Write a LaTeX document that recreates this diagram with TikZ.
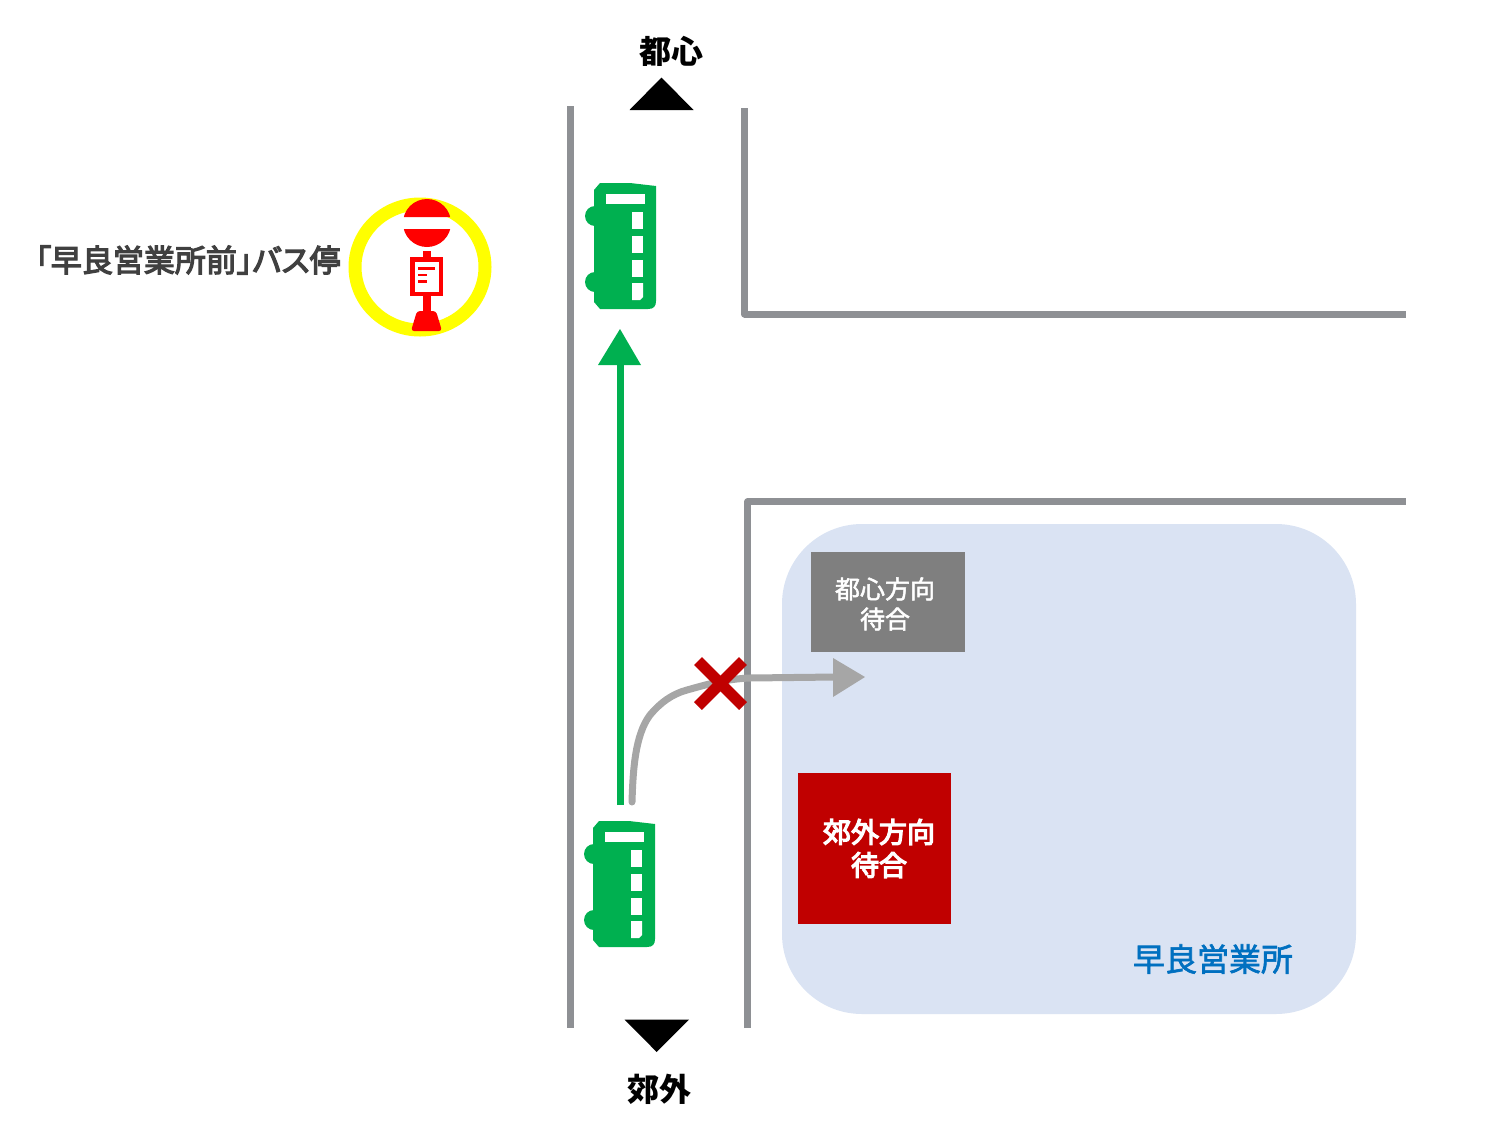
\documentclass[tikz,border=0pt]{standalone}
\usepackage{fontspec}
\setmainfont{Noto Sans CJK JP}
\newfontfamily\jpmed[FakeBold=2]{Noto Sans CJK JP}
\newfontfamily\jpheavy[FakeBold=4.5]{Noto Sans CJK JP}
\newfontfamily\jplab[RawFeature=+palt,FakeBold=4]{Noto Sans CJK JP}
\definecolor{road}{HTML}{8E9094}
\definecolor{busgreen}{HTML}{00B050}
\definecolor{xred}{HTML}{C00000}
\definecolor{lot}{HTML}{DAE3F3}
\definecolor{routegray}{HTML}{A6A6A6}
\definecolor{boxgray}{HTML}{7F7F7F}
\definecolor{officeblue}{HTML}{0070C0}
\definecolor{labelgray}{HTML}{404040}
\definecolor{ringyellow}{HTML}{FFFF00}
\newcommand\jfont[1]{\fontsize{#1}{#1}\selectfont}
\tikzset{
  road line/.style={draw=road,line width=7pt},
  label text/.style={inner sep=0pt,align=center},
  bus window/.style={fill=white},
  stop red/.style={fill=red}
}
\newcommand\drawbus[2]{%
  \begin{scope}[shift={(#1,#2)}]
    \fill[busgreen] (594,190) -- (600,183) -- (630,183) -- (656,186) -- (656,301)
      .. controls (656,306) and (654,309) .. (648,309) -- (600,309) -- (594,302) -- cycle;
    \fill[busgreen] (595,216) circle[radius=10];
    \fill[busgreen] (595,282) circle[radius=10];
    \fill[bus window] (606,194) rectangle (645,204);
    \fill[bus window] (632,212) rectangle (643,229);
    \fill[bus window] (632,236) rectangle (643,253);
    \fill[bus window] (632,260) rectangle (643,277);
    \fill[bus window] (632,283) -- (643,283) -- (643,297) -- (640,300) -- (632,300) -- cycle;
  \end{scope}}
\begin{document}
\begin{tikzpicture}[x=1pt,y=-1pt]
\useasboundingbox (0,0) rectangle (1500,1125);
% office lot
\fill[lot,rounded corners=80pt] (782,524) rectangle (1356,1014);
% roads
\draw[road line] (570.7,106) -- (570.7,1028);
\draw[road line,line join=round] (744.7,108) -- (744.7,314) -- (1406,314);
\draw[road line,line join=round] (747.7,1028) -- (747.7,501.7) -- (1406,501.7);
% direction triangles
\fill (629.5,110) -- (693.5,110) -- (661.5,77.5) -- cycle;
\fill (624.5,1019.5) -- (689,1019.5) -- (656.7,1052) -- cycle;
\node[label text,font=\bfseries\jfont{32}] (city) at (671,51) {都心};
\node[label text,font=\bfseries\jfont{32}] (suburb) at (659,1089) {郊外};
% buses
\drawbus{0}{0}
\drawbus{-1}{638}
% green route
\coordinate (gstart) at (620,805);
\coordinate (gend) at (620,362);
\draw[busgreen,line width=7pt] (gstart) -- (gend);
\fill[busgreen] (598,365) -- (641,365) -- (620,329) -- cycle;
% gray route
\coordinate (rstart) at (632,802);
\coordinate (rend) at (836,677);
\draw[routegray,line width=7pt,line cap=round,line join=round] (rstart)
  .. controls (633,770) and (635,735) .. (650,715)
  .. controls (660,703) and (672,694) .. (687,690)
  .. controls (705,685) and (725,679) .. (750,678) -- (rend);
\fill[routegray] (833,658) -- (865,677) -- (833,697) -- cycle;
% cross
\draw[xred,line width=11pt] (698,661) -- (743,706);
\draw[xred,line width=11pt] (743,661) -- (698,706);
% boxes
\node[fill=boxgray,minimum width=154pt,minimum height=100pt,inner sep=0pt] (gray box) at (888,602) {};
\node[label text,text=white,font=\jpmed\jfont{25}] (gray line one) at (885,589) {都心方向};
\node[label text,text=white,font=\jpmed\jfont{25}] (gray line two) at (885,619) {待合};
\node[fill=xred,minimum width=153pt,minimum height=151pt,inner sep=0pt] (red box) at (874.5,848.5) {};
\node[label text,text=white,font=\jpheavy\jfont{28}] (red line one) at (879,832) {郊外方向};
\node[label text,text=white,font=\jpheavy\jfont{28}] (red line two) at (879,865) {待合};
\node[label text,text=officeblue,font=\jpmed\jfont{32}] (office) at (1213,959) {早良営業所};
% bus stop
\draw[ringyellow,line width=13pt] (420,267) ellipse[x radius=65,y radius=63];
\begin{scope}
  \clip (390,195) rectangle (460,217) (390,229) rectangle (460,250);
  \fill[stop red] (427,223) circle[radius=24];
\end{scope}
\fill[stop red] (423,251) rectangle (431,257);
\fill[stop red] (410,257) rectangle (443,296);
\fill[white] (414.5,261.5) rectangle (439,292);
\fill[stop red] (418,267) rectangle (435,269.5);
\fill[stop red] (418,273.5) rectangle (427,276);
\fill[stop red] (418,280) rectangle (427,282.5);
\fill[stop red] (423,296) rectangle (431,312);
\fill[stop red,rounded corners=3pt] (417,311) -- (436,311) -- (442,331) -- (411,331) -- cycle;
\node[label text,text=labelgray,font=\jplab\jfont{31}] (stop label) at (188,260) {「早良営業所前」バス停};
\end{tikzpicture}
\end{document}
